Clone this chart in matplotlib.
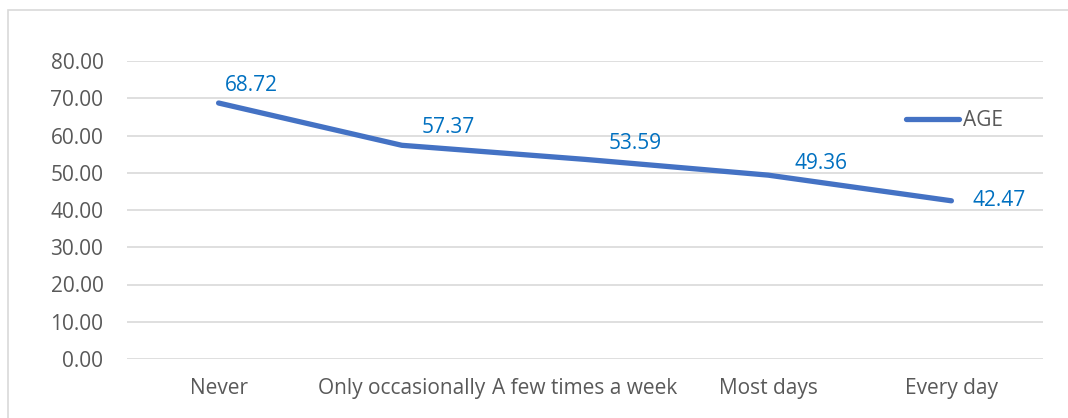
import matplotlib
matplotlib.use("Agg")
import matplotlib.pyplot as plt
from matplotlib.patches import Rectangle

plt.rcParams['font.family'] = ['Open Sans', 'DejaVu Sans']

categories = ['Never', 'Only occasionally', 'A few times a week', 'Most days', 'Every day']
age = [68.72, 57.37, 53.59, 49.36, 42.47]
yticks = [0, 10, 20, 30, 40, 50, 60, 70, 80]

# label offsets in pixels (right / up of each point)
label_off = [(33, 18), (46, 18), (50, 16), (53, 12), (48, 0)]

W, H = 1068, 418
fig = plt.figure(figsize=(W / 100, H / 100), dpi=100)

# chart frame
fig.patches.append(Rectangle((8 / W, -0.1), 1.2, 1 - 10 / H + 0.1, transform=fig.transFigure,
                             fill=False, edgecolor='#D9D9D9', linewidth=1.2))

ax = fig.add_axes([127 / W, 1 - 359 / H, (1043 - 127) / W, (359 - 61) / H])
x = list(range(len(categories)))
ax.plot(x, age, color='#4472C4', linewidth=3.8, solid_capstyle='round',
        solid_joinstyle='round', label='AGE')

for xi, v, (dx, dy) in zip(x, age, label_off):
    ax.annotate('%.2f' % v, (xi, v), xytext=(dx, dy), textcoords='offset pixels',
                ha='center', va='center', color='#0070C0', fontsize=15)

ax.set_xlim(-0.5, len(categories) - 0.5)
ax.set_ylim(0, 80)
ax.set_yticks(yticks)
ax.set_yticklabels(['%.2f' % t for t in yticks])
ax.set_xticks(x)
ax.set_xticklabels(categories)
ax.tick_params(axis='both', length=0, labelsize=15, labelcolor='#595959')
ax.tick_params(axis='y', pad=17)
ax.tick_params(axis='x', pad=14)
ax.grid(axis='y', color='#D9D9D9', linewidth=1.2)
ax.set_axisbelow(True)
for s in ax.spines.values():
    s.set_visible(False)

leg = ax.legend(loc='center left', bbox_to_anchor=(896 / W, 1 - 121 / H),
                bbox_transform=fig.transFigure, frameon=False, fontsize=15,
                handlelength=2.5, handletextpad=0.2, borderpad=0)
for t in leg.get_texts():
    t.set_color('#595959')

fig.savefig('out.png', dpi=100)
